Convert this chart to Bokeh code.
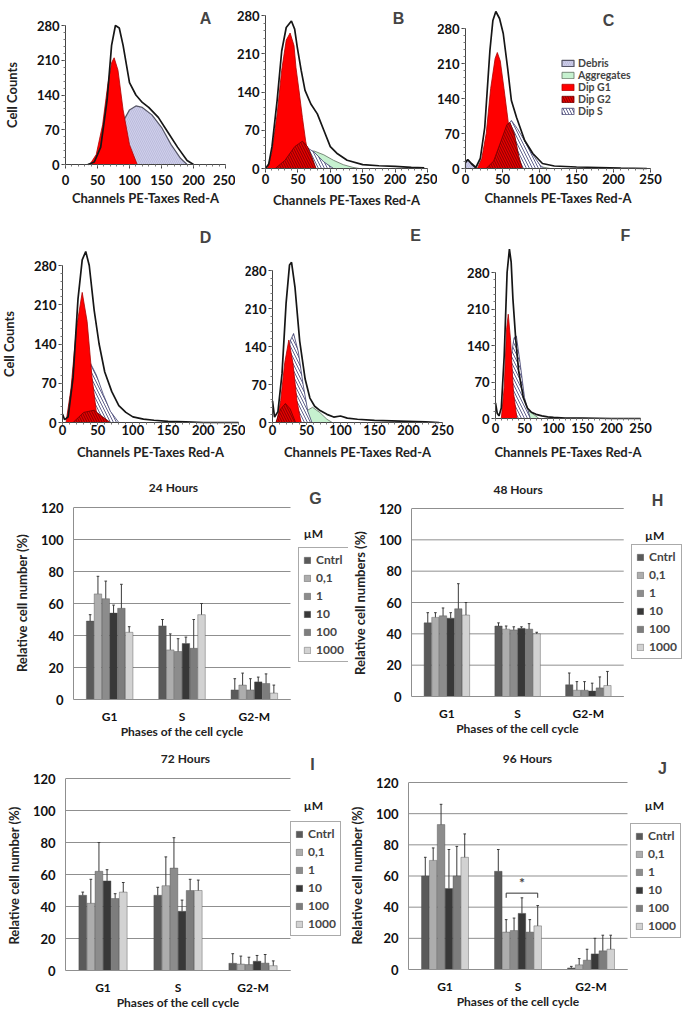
from bokeh.plotting import figure
from bokeh.layouts import column, row
from bokeh.models import (Range1d, FixedTicker, Label, Legend, LegendItem,
                          ColumnDataSource, CustomJSTickFormatter)
from bokeh.transform import dodge
from bokeh.embed import file_html
from bokeh.resources import INLINE

FONT = "Lato"
LETTER_FONT = "Liberation Sans"

# ---------------- DATA: flow cytometry histograms (channel, cell count) ----------------
channel_ticks = [0, 50, 100, 150, 200, 250]
count_ticks = [0, 70, 140, 210, 280]

A_total_x = [35, 45, 55, 65, 72, 78, 84, 90, 100, 110, 120, 130, 145, 160, 175, 190, 200]
A_total_y = [0, 5, 35, 130, 240, 280, 275, 240, 165, 140, 125, 115, 95, 65, 35, 8, 0]
A_g1_x = [38, 48, 58, 66, 72, 76, 82, 90, 100, 112]
A_g1_y = [0, 20, 80, 160, 205, 215, 190, 110, 40, 0]
A_debris_x = [55, 70, 85, 100, 110, 120, 135, 150, 165, 180, 190]
A_debris_y = [0, 25, 75, 110, 118, 115, 100, 75, 40, 12, 0]

B_total_x = [0, 5, 10, 18, 25, 32, 40, 45, 49, 55, 61, 70, 80, 90, 100, 110, 126, 150, 175, 200, 225, 245]
B_total_y = [0, 8, 40, 125, 215, 258, 270, 255, 222, 180, 143, 118, 100, 70, 40, 28, 15, 7, 5, 4, 2, 1]
B_g1_x = [3, 10, 18, 25, 32, 38, 44, 47, 52, 57, 62, 67, 74]
B_g1_y = [0, 30, 100, 180, 235, 248, 225, 185, 140, 93, 50, 20, 0]
B_g2_x = [15, 30, 45, 57, 65, 72, 78]
B_g2_y = [0, 15, 40, 50, 40, 20, 0]
B_s_x = [50, 62, 75, 90, 105]
B_s_y = [0, 40, 30, 12, 0]
B_agg_x = [55, 62, 75, 90, 105, 120, 135, 145]
B_agg_y = [0, 30, 32, 25, 15, 7, 2, 0]

C_total_x = [0, 3, 8, 14, 20, 26, 33, 37, 41, 46, 51, 57, 62, 69, 80, 91, 104, 120, 150, 180, 210, 245]
C_total_y = [12, 18, 10, 2, 20, 82, 236, 296, 314, 300, 270, 200, 136, 102, 56, 30, 10, 5, 3, 2, 1, 0]
C_debris_x = [0, 0, 3, 8, 14]
C_debris_y = [0, 12, 17, 9, 0]
C_g1_x = [16, 22, 28, 34, 40, 43, 47, 52, 58, 64, 72]
C_g1_y = [0, 20, 70, 160, 220, 232, 215, 160, 90, 35, 0]
C_g2_x = [28, 38, 48, 56, 60, 66, 72, 77]
C_g2_y = [0, 15, 55, 88, 92, 70, 25, 0]
C_s_x = [40, 50, 58, 62, 70, 80, 90, 100, 106]
C_s_y = [0, 40, 88, 96, 80, 55, 30, 8, 0]
C_agg_x = [70, 85, 100, 115]
C_agg_y = [0, 6, 4, 0]

D_total_x = [0, 3, 8, 15, 22, 28, 33, 38, 45, 52, 60, 70, 80, 90, 100, 115, 130, 150, 175, 200, 225, 250]
D_total_y = [15, 5, 10, 80, 220, 290, 305, 280, 200, 140, 90, 55, 30, 18, 10, 6, 4, 2, 1, 0, 0, 0]
D_g1_x = [5, 12, 20, 28, 35, 42, 50]
D_g1_y = [0, 60, 170, 232, 180, 80, 0]
D_s_x = [20, 28, 35, 40, 48, 58, 68, 80]
D_s_y = [0, 50, 95, 105, 85, 50, 20, 0]
D_g2_x = [15, 30, 45, 55, 68]
D_g2_y = [0, 18, 22, 12, 0]

E_total_x = [0, 3, 8, 14, 20, 25, 28, 33, 40, 48, 55, 62, 70, 80, 90, 100, 110, 125, 150, 175, 200, 225, 245]
E_total_y = [40, 10, 20, 90, 220, 290, 295, 250, 150, 80, 45, 30, 22, 15, 10, 12, 8, 6, 4, 3, 2, 1, 0]
E_g1_x = [6, 12, 18, 24, 30, 36, 42]
E_g1_y = [0, 40, 110, 152, 110, 40, 0]
E_g2_x = [5, 12, 19, 26, 34]
E_g2_y = [0, 25, 35, 25, 0]
E_s_x = [12, 20, 26, 31, 38, 45, 52, 58]
E_s_y = [0, 80, 150, 164, 130, 70, 20, 0]
E_agg_x = [38, 48, 59, 70, 80, 88]
E_agg_y = [0, 20, 28, 18, 6, 0]

F_total_x = [0, 3, 6, 10, 15, 20, 24, 27, 30, 35, 40, 48, 55, 62, 70, 80, 90, 100, 120, 150, 200, 250]
F_total_y = [30, 10, 5, 20, 120, 280, 325, 300, 230, 150, 90, 40, 20, 12, 8, 5, 3, 2, 1, 1, 0, 0]
F_g1_x = [10, 15, 19, 22, 26, 31, 37]
F_g1_y = [0, 60, 170, 200, 150, 50, 0]
F_s_x = [14, 20, 26, 32, 36, 42, 50, 60]
F_s_y = [0, 40, 110, 155, 158, 110, 40, 0]
F_agg_x = [38, 48, 58, 68, 75]
F_agg_y = [0, 10, 14, 6, 0]

legend_names = ["Debris", "Aggregates", "Dip G1", "Dip G2", "Dip S"]

# ---------------- DATA: cell-cycle bar charts (%), one row per concentration: [G1, S, G2-M] ----------------
phases = ["G1", "S", "G2-M"]
concs = ["Cntrl", "0,1", "1", "10", "100", "1000"]
conc_colors = ["#5a5a5a", "#adadad", "#8c8c8c", "#383838", "#7d7d7d", "#d2d2d2"]
pct_ticks = [0, 20, 40, 60, 80, 100, 120]

h24_mean = [[49, 46, 6], [66, 31, 9], [63, 30, 6], [54, 35, 11], [57, 32, 10], [42, 53, 4]]
h24_err = [[4, 4, 7], [11, 10, 7.5], [11, 8, 7], [5, 4, 3], [15, 18, 6], [3.5, 7, 5]]
h48_mean = [[47, 45, 7.5], [50.5, 43, 4], [51.5, 42.5, 4], [50, 43.5, 3.5], [56, 43, 5.5], [52, 40, 7]]
h48_err = [[6.5, 2, 7.5], [3, 2, 5.5], [5, 2, 5.5], [3.5, 1, 5], [16, 3.5, 7], [8, 1, 9]]
h72_mean = [[47, 47, 4.5], [42, 53, 4], [62, 64, 3.7], [56, 37, 5.8], [45, 50, 4.6], [49, 50, 3]]
h72_err = [[2, 5, 6], [15, 18, 5], [18, 19, 4.6], [7, 7, 3.6], [3, 7, 5.4], [6, 6.5, 3]]
h96_mean = [[60, 63, 1], [70, 24, 3], [93, 25, 6], [52, 36, 10], [60, 24, 12], [72, 28, 13]]
h96_err = [[12, 14, 1], [8, 8, 4], [13, 8, 7], [25, 10, 10], [19, 8, 10], [15, 13, 9]]
h96_sig_from, h96_sig_to, h96_sig_level = "0,1", "1000", 49

# ---------------- STYLES ----------------
STY = {
    "Debris": dict(fill_color="#cfcfeb", line_color="#555566", line_width=1.2,
                   hatch_pattern="\\", hatch_color="#a9a9cc", hatch_scale=4, hatch_weight=0.5),
    "Aggregates": dict(fill_color="#c6f1cf", line_color="#607060", line_width=0.8),
    "Dip S": dict(fill_color="#ffffff", line_color="#3c3c6c", line_width=0.8,
                  hatch_pattern="\\", hatch_color="#4f4f80", hatch_scale=6, hatch_weight=0.9),
    "Dip G1": dict(fill_color="#ff0000", line_color="#b00000", line_width=0.8),
    "Dip G2": dict(fill_color="#e60000", line_color="#700000", line_width=0.8,
                   hatch_pattern="\\", hatch_color="#700000", hatch_scale=5, hatch_weight=0.8),
}
DRAW_ORDER = ["Debris", "Aggregates", "Dip S", "Dip G1", "Dip G2"]


def style_axis(ax, size):
    ax.major_label_text_font = FONT
    ax.major_label_text_font_style = "bold"
    ax.major_label_text_font_size = size
    ax.major_label_text_color = "#111111"
    ax.axis_label_text_font = FONT
    ax.axis_label_text_font_style = "bold"
    ax.axis_label_text_font_size = size
    ax.axis_label_text_color = "#222222"


def base_fig(box, frame, x_range, y_range):
    fx0, fy0, fx1, fy1 = box
    l, t, r, b = frame
    p = figure(width=fx1 - fx0, height=fy1 - fy0, x_range=x_range, y_range=y_range,
               min_border_left=l - fx0, min_border_right=fx1 - r,
               min_border_top=t - fy0, min_border_bottom=fy1 - b,
               output_backend="svg", toolbar_location=None)
    p.outline_line_color = None
    p.background_fill_color = "white"
    p.border_fill_color = "white"
    return p


def hist_panel(box, calib, y_axis_end, layers, total, letter, letter_xy, ytitle=None,
               legend_box=None, tick_out=4, x_lab_so=4, x_title_so=4):
    # the plot frame fills the whole figure; both axes are pinned at 0
    fx0, fy0, fx1, fy1 = box
    l, t_axis, r, b = calib
    pxpc = (b - t_axis) / y_axis_end
    pxch = (r - l) / 250.0
    x_rng = Range1d(-(l - fx0) / pxch, (fx1 - l) / pxch)
    y_rng = Range1d(-(fy1 - b) / pxpc, (b - fy0) / pxpc)
    p = base_fig(box, box, x_rng, y_rng)
    p.grid.visible = False

    def to_data(px, py):
        return (px - l) / pxch, (b - py) / pxpc

    rends = {}
    for name in DRAW_ORDER:
        if name in layers:
            xs, ys = layers[name]
            rends[name] = p.patch(xs, ys, **STY[name])
    p.line(total[0], total[1], line_color="#161616", line_width=1.7)

    p.xaxis.ticker = FixedTicker(ticks=channel_ticks, minor_ticks=list(range(0, 251, 10)))
    p.xaxis.fixed_location = 0
    p.xaxis.bounds = (0, 250)
    p.yaxis.ticker = FixedTicker(ticks=count_ticks, minor_ticks=list(range(0, int(y_axis_end) + 1, 14)))
    p.yaxis.fixed_location = 0
    p.yaxis.bounds = (0, y_axis_end)
    for ax in (p.xaxis[0], p.yaxis[0]):
        style_axis(ax, "13px")
        ax.axis_line_color = "#444444"
        ax.major_tick_line_color = "#444444"
        ax.minor_tick_line_color = "#777777"
        ax.major_tick_out = tick_out
        ax.major_tick_in = 0
        ax.minor_tick_out = 2
        ax.minor_tick_in = 0
    p.yaxis.major_tick_out = 4
    p.xaxis.axis_label = "Channels PE-Taxes Red-A"
    p.xaxis.major_label_standoff = x_lab_so
    p.xaxis.axis_label_standoff = x_title_so
    p.yaxis.major_label_standoff = 2
    if ytitle:
        p.yaxis.axis_label = ytitle
        p.yaxis.axis_label_standoff = 14

    lx, ly = to_data(*letter_xy)
    p.add_layout(Label(x=lx, y=ly, text=letter, text_font=LETTER_FONT, text_font_style="bold",
                       text_font_size="16px", text_align="center", text_baseline="middle"))

    if legend_box is not None:
        left_px, bottom_px = legend_box
        leg = Legend(items=[LegendItem(label=n, renderers=[rends[n]]) for n in legend_names],
                     location=(left_px - fx0, fy1 - bottom_px))
        leg.background_fill_alpha = 0
        leg.border_line_color = None
        leg.padding = 0
        leg.margin = 0
        leg.spacing = -4
        leg.glyph_width = 15
        leg.glyph_height = 8
        leg.label_height = 8
        leg.label_standoff = 3
        leg.label_text_font = FONT
        leg.label_text_font_size = "10.5px"
        leg.label_text_font_style = "bold"
        leg.label_text_line_height = 0.8
        p.add_layout(leg)
    return p


BAR_W = 0.108
OFFSETS = [(-2.5 + i) * BAR_W for i in range(6)]
phase_pos = [i + 0.5 for i in range(len(phases))]


def bar_panel(box, calib, means, errs, title, title_xy, letter, letter_xy, mu_xy, ytitle,
              legend_box, x_lab_so=9, x_title_so=-3, sig=None):
    fx0, fy0, fx1, fy1 = box
    l, t120, r3, b = calib
    ppu_x = (r3 - l) / 3.0
    ppu_y = (b - t120) / 120.0
    t = fy0 + 2
    r = fx1
    x_end = (r - l) / ppu_x
    y_end = (b - t) / ppu_y
    y_start = -(fy1 - b) / ppu_y
    p = base_fig(box, (l, t, r, fy1), Range1d(0, x_end), Range1d(y_start, y_end))

    def to_data(px, py):
        return (px - l) / ppu_x, (b - py) / ppu_y

    p.grid.visible = False
    n = len(phases)
    p.segment(x0=[0] * len(pct_ticks), y0=pct_ticks, x1=[n] * len(pct_ticks), y1=pct_ticks,
              line_color="#8f8f8f", line_width=1, level="underlay")

    bars = []
    for i, conc in enumerate(concs):
        up = [m + e for m, e in zip(means[i], errs[i])]
        src = ColumnDataSource(dict(pos=phase_pos, top=means[i], up=up))
        off = OFFSETS[i]
        rr = p.vbar(x=dodge("pos", off), top="top", width=BAR_W * 0.96,
                    source=src, fill_color=conc_colors[i], line_color="#4a4a4a", line_width=0.4)
        bars.append(rr)
        p.segment(x0=dodge("pos", off), y0="top", x1=dodge("pos", off), y1="up",
                  source=src, line_color="#3a3a3a", line_width=1)
        p.segment(x0=dodge("pos", off - 0.018), y0="up", x1=dodge("pos", off + 0.018), y1="up",
                  source=src, line_color="#3a3a3a", line_width=1)

    if sig is not None:
        c_from, c_to, level = sig
        xs_center = phase_pos[phases.index("S")]
        x0 = xs_center + OFFSETS[concs.index(c_from)]
        x1 = xs_center + OFFSETS[concs.index(c_to)]
        p.line([x0, x0, x1, x1], [level - 3, level, level, level - 3],
               line_color="#333333", line_width=1)
        p.add_layout(Label(x=(x0 + x1) / 2, y=level + 1.5, text="*", text_font=FONT,
                           text_font_style="bold", text_font_size="14px",
                           text_align="center", text_baseline="bottom"))

    p.xaxis.ticker = FixedTicker(ticks=phase_pos)
    p.xaxis.formatter = CustomJSTickFormatter(args=dict(names=phases),
                                              code="return names[Math.floor(tick)] || '';")
    p.xaxis.bounds = (0, n)
    p.xaxis.fixed_location = 0
    p.yaxis.ticker = FixedTicker(ticks=pct_ticks)
    p.yaxis.bounds = (0, 120)
    for ax in (p.xaxis[0], p.yaxis[0]):
        style_axis(ax, "13px")
        ax.axis_line_color = "#8f8f8f"
        ax.major_tick_line_color = None
        ax.minor_tick_line_color = None
        ax.major_tick_out = 0
        ax.major_tick_in = 0
        ax.minor_tick_out = 0
        ax.minor_tick_in = 0
    p.xaxis.major_label_text_font_size = "12px"
    p.xaxis.axis_label_text_font_size = "12px"
    p.xaxis.axis_label = "Phases of the cell cycle"
    p.xaxis.major_label_standoff = x_lab_so
    p.xaxis.axis_label_standoff = x_title_so
    p.yaxis.axis_label = ytitle
    p.yaxis.major_label_standoff = 10
    p.yaxis.axis_label_standoff = 8

    tx, ty = to_data(*title_xy)
    p.add_layout(Label(x=tx, y=ty, text=title, text_font=FONT, text_font_style="bold",
                       text_font_size="12px", text_align="center", text_baseline="middle",
                       text_color="#222222"))
    lx, ly = to_data(*letter_xy)
    p.add_layout(Label(x=lx, y=ly, text=letter, text_font=LETTER_FONT, text_font_style="bold",
                       text_font_size="16px", text_align="center", text_baseline="middle"))
    mx, my = to_data(*mu_xy)
    p.add_layout(Label(x=mx, y=my, text="µM", text_font=FONT, text_font_style="bold",
                       text_font_size="12px", text_align="center", text_baseline="middle",
                       text_color="#222222"))

    left_px, bottom_px = legend_box
    leg = Legend(items=[LegendItem(label=c, renderers=[rr]) for c, rr in zip(concs, bars)],
                 location=(left_px - l, fy1 - bottom_px))
    leg.border_line_color = "#555555"
    leg.border_line_width = 1
    leg.background_fill_color = "white"
    leg.padding = 4
    leg.margin = 0
    leg.spacing = 3
    leg.glyph_width = 8
    leg.glyph_height = 8
    leg.label_height = 10
    leg.label_standoff = 5
    leg.label_text_font = FONT
    leg.label_text_font_size = "12px"
    leg.label_text_font_style = "bold"
    p.add_layout(leg)
    return p


# ---------------- PANELS (boxes and frames in page pixels) ----------------
pA = hist_panel((0, 0, 235, 212), (65, 25, 225, 164), 280,
                {"Debris": (A_debris_x, A_debris_y), "Dip G1": (A_g1_x, A_g1_y)},
                (A_total_x, A_total_y), "A", (205, 18), ytitle="Cell Counts",
                x_lab_so=6, x_title_so=2)
pB = hist_panel((235, 0, 437, 212), (265, 15, 427, 168), 280,
                {"Aggregates": (B_agg_x, B_agg_y), "Dip S": (B_s_x, B_s_y),
                 "Dip G1": (B_g1_x, B_g1_y), "Dip G2": (B_g2_x, B_g2_y)},
                (B_total_x, B_total_y), "B", (398, 18), x_lab_so=1, x_title_so=5)
pC = hist_panel((437, 0, 677, 212), (465, 28, 650, 168), 280,
                {"Debris": (C_debris_x, C_debris_y), "Aggregates": (C_agg_x, C_agg_y),
                 "Dip S": (C_s_x, C_s_y), "Dip G1": (C_g1_x, C_g1_y), "Dip G2": (C_g2_x, C_g2_y)},
                (C_total_x, C_total_y), "C", (608, 20), legend_box=(560, 117),
                x_lab_so=1, x_title_so=3)

pD = hist_panel((0, 212, 245, 463), (62, 265, 238, 422), 280,
                {"Dip S": (D_s_x, D_s_y), "Dip G1": (D_g1_x, D_g1_y), "Dip G2": (D_g2_x, D_g2_y)},
                (D_total_x, D_total_y), "D", (205, 237), ytitle="Cell Counts",
                tick_out=2, x_lab_so=0, x_title_so=6)
pE = hist_panel((245, 212, 458, 463), (272, 270, 442, 422), 280,
                {"Aggregates": (E_agg_x, E_agg_y), "Dip S": (E_s_x, E_s_y),
                 "Dip G1": (E_g1_x, E_g1_y), "Dip G2": (E_g2_x, E_g2_y)},
                (E_total_x, E_total_y), "E", (415, 235), tick_out=2, x_lab_so=0, x_title_so=6)
pF = hist_panel((458, 212, 677, 463), (495, 272, 640, 418), 280,
                {"Aggregates": (F_agg_x, F_agg_y), "Dip S": (F_s_x, F_s_y),
                 "Dip G1": (F_g1_x, F_g1_y)},
                (F_total_x, F_total_y), "F", (625, 235), tick_out=2, x_lab_so=2, x_title_so=8)

pG = bar_panel((0, 463, 348, 740), (73, 507, 290, 699), h24_mean, h24_err, "24 Hours", (173, 487),
               "G", (315, 498), (313, 533), "Relative cell number (%)", (298, 662))
pH = bar_panel((348, 463, 684, 740), (410, 508, 623, 696), h48_mean, h48_err, "48 Hours", (517, 489),
               "H", (657, 500), (654, 535), "Relative cell numbers (%)", (630, 659))
pI = bar_panel((0, 740, 344, 1008), (65, 778, 290, 970), h72_mean, h72_err, "72 Hours", (185, 758),
               "I", (312, 764), (313, 805), "Relative cell number (%)", (290, 936))
pJ = bar_panel((344, 740, 684, 1008), (408, 782, 627, 969), h96_mean, h96_err, "96 Hours", (527, 758),
               "J", (662, 768), (654, 805), "Relative cell number (%)", (630, 938),
               sig=(h96_sig_from, h96_sig_to, h96_sig_level))

layout = column(row(pA, pB, pC), row(pD, pE, pF), row(pG, pH), row(pI, pJ))

open("out.html", "w").write(file_html(layout, INLINE))
